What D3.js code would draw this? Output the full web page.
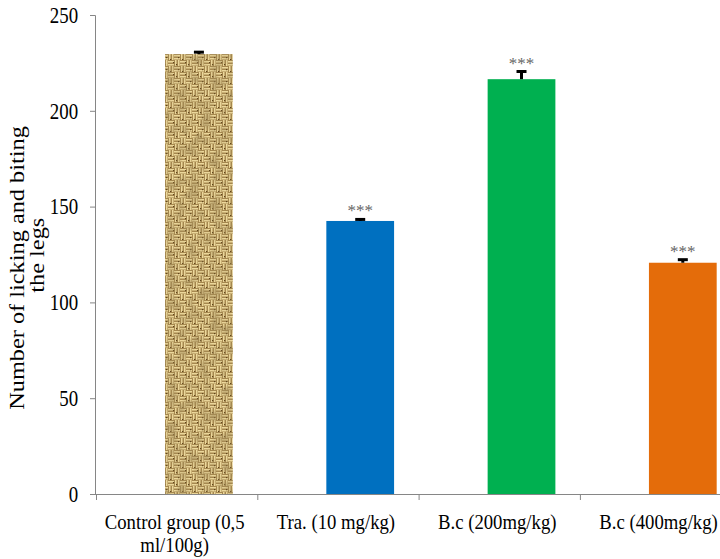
<!DOCTYPE html>
<html>
<head>
<meta charset="utf-8">
<script src="https://cdn.jsdelivr.net/npm/d3@7"></script>
<style>
  html, body { margin: 0; padding: 0; background: #fff; }
  svg { display: block; font-family: "Liberation Serif", "Times New Roman", serif; }
</style>
</head>
<body>
<svg id="chart" width="720" height="559"></svg>
<script>
// Groups, mean counts and SEM
const groups = ["Control group (0,5 ml/100g)", "Tra. (10 mg/kg)", "B.c (200mg/kg)", "B.c (400mg/kg)"];
const groupLines = [["Control group (0,5", "ml/100g)"], ["Tra. (10 mg/kg)"], ["B.c (200mg/kg)"], ["B.c (400mg/kg)"]];
const means = [229.6, 142.5, 216.5, 120.7];
const sems = [1.0, 0.8, 4.0, 1.6];
const signif = ["", "***", "***", "***"];
const yTicks = [0, 50, 100, 150, 200, 250];
const fills = ["url(#burlap)", "#0070C0", "#00B050", "#E46C0A"];

const svg = d3.select("#chart");

// Woven burlap texture for the control bar
const defs = svg.append("defs");
const pat = defs.append("pattern").attr("id", "burlap")
  .attr("patternUnits", "userSpaceOnUse").attr("width", 12).attr("height", 12);
pat.append("rect").attr("width", 12).attr("height", 12).attr("fill", "#94733a");
[[0, 0, "h"], [6, 6, "h"], [6, 0, "v"], [0, 6, "v"]].forEach(([ox, oy, d]) => {
  for (let i = 0; i < 2; i++) {
    const o = 0.8 + i * 3;
    if (d === "h") {
      pat.append("rect").attr("x", ox).attr("y", oy + o).attr("width", 6).attr("height", 1.8).attr("fill", "#ecd89c");
    } else {
      pat.append("rect").attr("x", ox + o).attr("y", oy).attr("width", 1.8).attr("height", 6).attr("fill", "#ecd89c");
    }
  }
});
[[5, 2], [10, 9], [2, 11], [8, 4]].forEach(([px, py]) =>
  pat.append("rect").attr("x", px).attr("y", py).attr("width", 1.2).attr("height", 1.2).attr("fill", "#5e441c"));

// mottled shading laid over the weave
const mottle = defs.append("filter").attr("id", "mottle").attr("x", 0).attr("y", 0).attr("width", 1).attr("height", 1);
mottle.append("feTurbulence").attr("type", "fractalNoise").attr("baseFrequency", 0.09).attr("numOctaves", 2).attr("seed", 4);
mottle.append("feColorMatrix").attr("type", "matrix")
  .attr("values", "0 0 0 0 0.36  0 0 0 0 0.26  0 0 0 0 0.1  2.6 0 0 0 -1.05");

const plotLeft = 96, bandW = 161.3;
const x = d3.scaleBand().domain(groups).range([plotLeft, plotLeft + bandW * groups.length]).padding(0);
const y = d3.scaleLinear().domain([0, 250]).range([494, 15]);

// bar sits in the right part of each category slot
const barOffset = 0.428, barFrac = 0.42;
const barX = g => x(g) + x.bandwidth() * barOffset;
const barW = x.bandwidth() * barFrac;
const barC = g => barX(g) + barW / 2;

const axisColor = "#868686";

// Y axis
const yAxis = d3.axisLeft(y).tickValues(yTicks).tickSize(5).tickPadding(10);
const gy = svg.append("g").attr("transform", `translate(${plotLeft - 1},0)`).call(yAxis);
gy.select(".domain").attr("stroke", axisColor);
gy.selectAll(".tick line").attr("stroke", axisColor);
gy.selectAll(".tick text").attr("fill", "#000").style("font-size", "18px")
  .style("font-family", "'Liberation Serif', serif")
  .attr("transform", "scale(1.05,1.25)").attr("x", -16);

// Bars
const bars = svg.append("g");
bars.selectAll("rect").data(groups).join("rect")
  .attr("x", d => barX(d))
  .attr("width", barW)
  .attr("y", (d, i) => y(means[i]))
  .attr("height", (d, i) => y(0) - y(means[i]))
  .attr("fill", (d, i) => fills[i]);
bars.append("rect")
  .attr("x", barX(groups[0])).attr("width", barW)
  .attr("y", y(means[0])).attr("height", y(0) - y(means[0]))
  .attr("filter", "url(#mottle)").attr("opacity", 0.55);

// X axis with category boundary ticks
const gx = svg.append("g");
gx.append("line").attr("x1", plotLeft - 1).attr("x2", 720).attr("y1", y(0) + 0.5).attr("y2", y(0) + 0.5)
  .attr("stroke", axisColor);
gx.selectAll("line.bt").data(groups).join("line").attr("class", "bt")
  .attr("x1", d => x(d) + 0.5).attr("x2", d => x(d) + 0.5)
  .attr("y1", y(0)).attr("y2", y(0) + 6).attr("stroke", axisColor);
gx.selectAll("text").data(groups).join("text")
  .attr("text-anchor", "middle")
  .style("font-size", "18px")
  .attr("fill", "#000")
  .attr("transform", d => `translate(${x(d) + x.bandwidth() / 2 - 2},529) scale(1.04,1.22)`)
  .each(function(d, i) {
    const t = d3.select(this);
    groupLines[i].forEach((ln, k) => {
      t.append("tspan").attr("x", 0).attr("y", k * 23 / 1.22).text(ln);
    });
  });

// Error bars
const eb = svg.append("g").attr("stroke", "#000").attr("stroke-width", 3);
groups.forEach((g, i) => {
  const cx = barC(g);
  eb.append("line").attr("x1", cx).attr("x2", cx).attr("y1", y(means[i])).attr("y2", y(means[i] + sems[i]));
  eb.append("line").attr("x1", cx - 5).attr("x2", cx + 5)
    .attr("y1", y(means[i] + sems[i])).attr("y2", y(means[i] + sems[i]));
});

// Significance marks
svg.append("g").selectAll("text").data(groups).join("text")
  .attr("x", d => barC(d))
  .attr("y", (d, i) => y(means[i] + sems[i]) - 3)
  .attr("text-anchor", "middle")
  .attr("fill", "#666")
  .style("font-size", "17px")
  .text((d, i) => signif[i]);

// Y axis title
const yt = svg.append("text")
  .attr("transform", "translate(24,268) rotate(-90) scale(1.28,1.05)")
  .attr("text-anchor", "middle")
  .attr("fill", "#000")
  .style("font-size", "19px");
yt.append("tspan").attr("x", 0).attr("y", 0).text("Number of licking and biting");
yt.append("tspan").attr("x", 10).attr("y", 19.5).text("the legs");
</script>
</body>
</html>
